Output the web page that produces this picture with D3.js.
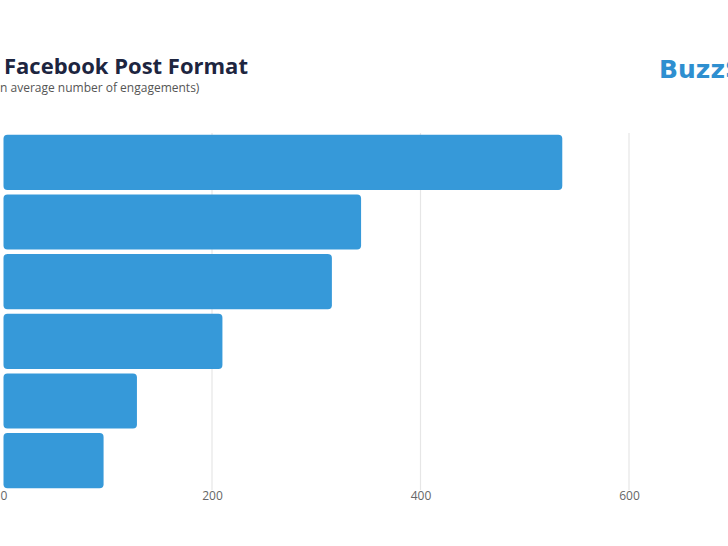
<!DOCTYPE html>
<html>
<head>
<meta charset="utf-8">
<script src="https://cdn.jsdelivr.net/npm/d3@7"></script>
<style>
  html, body { margin: 0; padding: 0; background: #fff; }
  svg { display: block; }
</style>
</head>
<body>
<svg id="chart" width="728" height="546"></svg>
<script>
const categories = ["Video", "Image", "Link", "Question", "Status", "Offer"];
const engagements = [536, 343, 315, 210, 128, 96];
const xTicks = [0, 200, 400, 600];
const titlePrefix = "Engagement by ";
const titleText = "Facebook Post Format";
const subtitlePrefix = "(Mea";
const subtitleText = "n average number of engagements)";
const logoText = "BuzzSumo";

const svg = d3.select("#chart");
const font = "'Open Sans', 'Noto Sans', sans-serif";

const x = d3.scaleLinear().domain([0, 600]).range([3.5, 629]);
const y = d3.scaleBand().domain(categories).range([133, 490]).paddingInner(0.075).paddingOuter(0.03);

// gridlines
svg.append("g").selectAll("line").data(xTicks.filter(d => d > 0)).join("line")
  .attr("x1", d => x(d)).attr("x2", d => x(d))
  .attr("y1", 133).attr("y2", 490)
  .attr("stroke", "#e6e6e6").attr("stroke-width", 1.2);

// bars
svg.append("g").selectAll("rect").data(categories).join("rect")
  .attr("x", x(0))
  .attr("y", d => y(d))
  .attr("width", (d, i) => x(engagements[i]) - x(0))
  .attr("height", y.bandwidth())
  .attr("rx", 4).attr("ry", 4)
  .attr("fill", "#3699d9");

// category labels (cropped off the left edge, as in the reference)
svg.append("g").selectAll("text").data(categories).join("text")
  .attr("x", -1)
  .attr("y", d => y(d) + y.bandwidth() / 2)
  .attr("dy", "0.35em")
  .attr("text-anchor", "end")
  .attr("font-family", font).attr("font-size", 12).attr("fill", "#666")
  .text(d => d);

// x axis
const xAxis = d3.axisBottom(x).tickValues(xTicks).tickSize(0).tickPadding(0);
const ax = svg.append("g").attr("transform", "translate(0,488)").call(xAxis);
ax.select(".domain").remove();
ax.selectAll("text").attr("font-family", font).attr("font-size", 12).attr("fill", "#666").attr("dy", "0.71em").attr("y", 3);

// title with cropped prefix
function croppedText(prefix, main, startX, baseline, size, weight, color) {
  const t = svg.append("text")
    .attr("y", baseline)
    .attr("font-family", font).attr("font-size", size).attr("font-weight", weight).attr("fill", color);
  const p = t.append("tspan").text(prefix);
  t.append("tspan").text(main);
  const w = p.node().getComputedTextLength();
  t.attr("x", startX - w);
}
croppedText(titlePrefix, titleText, 4, 74, 22, 700, "#1d2540");
croppedText(subtitlePrefix, subtitleText, 0, 92, 12, 400, "#555");

// logo
svg.append("text")
  .attr("x", 659).attr("y", 78)
  .attr("font-family", "'DejaVu Sans', sans-serif").attr("font-size", 25).attr("font-weight", 700)
  .attr("fill", "#2e8fd0")
  .text(logoText);
</script>
</body>
</html>
